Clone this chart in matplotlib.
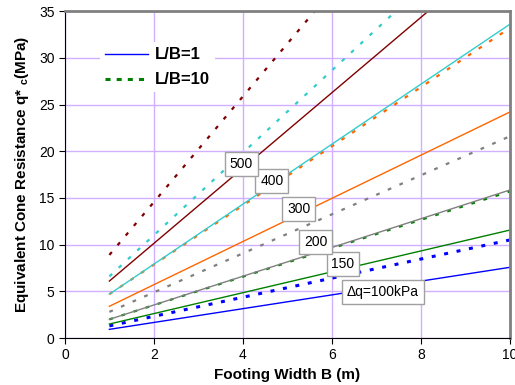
import matplotlib.pyplot as plt
import numpy as np

plt.rcParams['font.family'] = ['Liberation Sans', 'DejaVu Sans']
plt.rcParams['mathtext.default'] = 'regular'

# footing width range of every curve
B_ends = [1, 10]

# stress increase (kPa) and colours
dq = [100, 150, 200, 300, 400, 500]
colors = ['#0000FF', '#008000', '#808080', '#FF6600', '#33CCCC', '#800000']

# q*c (MPa) at B=1 and B=10, L/B=1
qc_lb1 = [[0.93, 7.57], [1.5, 11.56], [2.0, 15.85], [3.4, 24.2], [4.7, 33.6], [6.1, 42.4]]
# q*c (MPa) at B=1 and B=10, L/B=10
qc_lb10 = [[1.3, 10.5], [2.0, 15.7], [2.8, 21.6], [4.7, 33.2], [6.6, 46.3], [8.9, 59.8]]

label_text = ['\u0394q=100kPa', '150', '200', '300', '400', '500']
label_pos = [(7.15, 4.93), (6.25, 7.9), (5.64, 10.3), (5.26, 13.8), (4.65, 16.8), (3.96, 18.6)]

fig = plt.figure(figsize=(5.15, 3.85), dpi=100)
ax = fig.add_axes([0.126, 0.122, 0.864, 0.849])

for i in range(len(dq)):
    ax.plot(B_ends, qc_lb1[i], color=colors[i], lw=1.0)
    if i == 0:
        ax.plot(B_ends, qc_lb10[i], color=colors[i], lw=2.2, linestyle=(0, (1.3, 2.85)))
    else:
        ax.plot(B_ends, qc_lb10[i], color=colors[i], lw=1.6, linestyle=(0, (1.7, 4.0)))

for t, (x, y) in zip(label_text, label_pos):
    ax.text(x, y, t, ha='center', va='center', fontsize=10, color='black',
            bbox=dict(boxstyle='square,pad=0.35', fc='white', ec='#A0A0A0', lw=1))

ax.set_xlim(0, 10)
ax.set_ylim(0, 35)
ax.set_xticks(np.arange(0, 11, 2))
ax.set_yticks(np.arange(0, 36, 5))
ax.grid(True, color='#D0B0FF', lw=1)
ax.set_axisbelow(True)
ax.tick_params(labelsize=10, direction='out', length=4)

for s in ['top', 'right']:
    ax.spines[s].set_color('#808080')
    ax.spines[s].set_linewidth(2)

ax.set_xlabel('Footing Width B (m)', fontsize=11, fontweight='bold', labelpad=4)
ax.set_ylabel('Equivalent Cone Resistance q* $_c$(MPa)', fontsize=11, fontweight='bold', labelpad=6)

h1, = ax.plot([], [], color='#0000FF', lw=1)
h2, = ax.plot([], [], color='#008000', lw=2.2, linestyle=(0, (1.65, 2.0)))
leg = ax.legend([h1, h2], ['L/B=1', 'L/B=10'], loc='upper left', bbox_to_anchor=(0.06, 0.93),
                frameon=True, fancybox=False, edgecolor='none', framealpha=1,
                prop={'weight': 'bold', 'size': 12}, handlelength=2.6, handletextpad=0.4,
                borderpad=0.3, labelspacing=0.6)

fig.savefig('out.png', dpi=100)
